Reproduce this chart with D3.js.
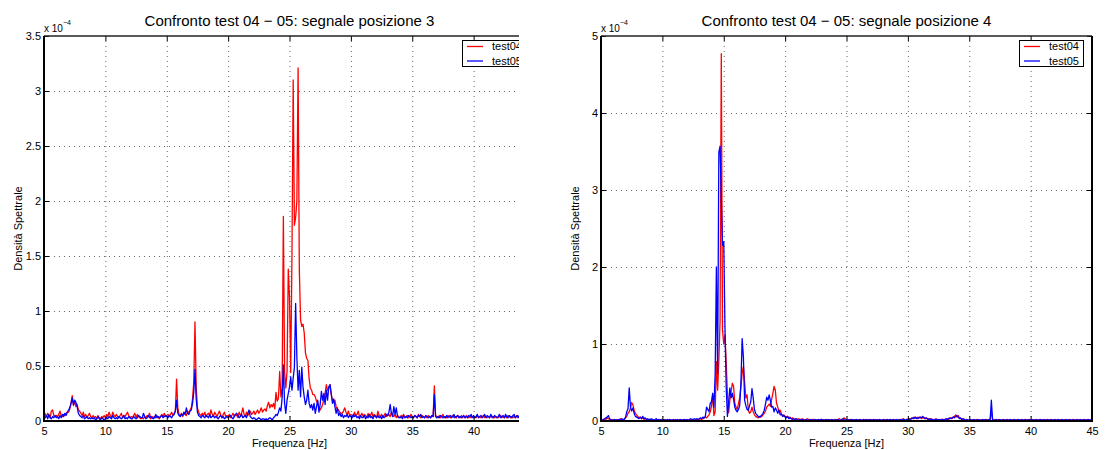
<!DOCTYPE html>
<html>
<head>
<meta charset="utf-8">
<script src="https://cdn.jsdelivr.net/npm/d3@7"></script>
<style>
  body { margin: 0; background: #fff; }
  svg { display: block; }
  text { font-family: "Liberation Sans", Arial, Helvetica, sans-serif; fill: #000; }
</style>
</head>
<body>
<svg id="fig" width="1105" height="450"></svg>
<script>
// Spectral density, units of 1e-6, sampled every 0.1 Hz starting at 5 Hz.
// One row per hertz (x.0 ... x.9).

// Position 3, test04
const pos3Test04 = [
  9, 6, 4, 7, 5, 3, 9, 10, 5, 4,
  5, 4, 6, 9, 5, 4, 6, 5, 7, 8,
  8, 11, 16, 23, 14, 18, 13, 15, 10, 9,
  7, 5, 8, 4, 6, 3, 5, 7, 4, 3,
  5, 3, 4, 2, 5, 3, 2, 4, 3, 5,
  3, 6, 4, 8, 5, 3, 8, 5, 4, 6,
  4, 3, 5, 7, 3, 5, 4, 6, 8, 5,
  3, 4, 3, 5, 7, 3, 6, 4, 3, 2,
  3, 2, 4, 3, 5, 4, 7, 2, 4, 3,
  4, 3, 5, 3, 2, 4, 6, 4, 7, 4,
  5, 6, 4, 6, 8, 5, 7, 9, 38, 12,
  6, 5, 7, 4, 8, 6, 5, 9, 7, 10,
  12, 20, 35, 90, 30, 12, 8, 6, 5, 7,
  5, 8, 4, 6, 7, 5, 10, 6, 4, 8,
  6, 4, 7, 9, 5, 3, 6, 8, 4, 5,
  4, 6, 3, 5, 7, 4, 6, 5, 3, 8,
  5, 7, 12, 6, 4, 8, 5, 7, 9, 6,
  7, 9, 6, 8, 10, 7, 9, 12, 8, 10,
  11, 9, 14, 17, 12, 15, 13, 16, 11, 26,
  18, 21, 45, 22, 30, 186, 45, 30, 45, 138,
  113, 44, 150, 310, 178, 185, 200, 321, 138, 92,
  86, 88, 80, 62, 57, 55, 38, 30, 28, 24,
  24, 22, 18, 16, 13, 10, 12, 15, 20, 25,
  33, 28, 30, 33, 24, 19, 17, 19, 13, 11,
  10, 8, 7, 7, 9, 12, 8, 6, 9, 5,
  6, 5, 4, 8, 5, 6, 9, 4, 5, 7,
  4, 6, 5, 3, 7, 4, 5, 8, 4, 6,
  5, 3, 9, 5, 4, 6, 3, 5, 7, 4,
  5, 6, 4, 8, 5, 4, 6, 3, 5, 4,
  3, 5, 4, 6, 3, 4, 5, 3, 4, 6,
  4, 3, 5, 4, 3, 6, 4, 3, 5, 4,
  3, 4, 3, 5, 4, 3, 5, 4, 32, 5,
  4, 3, 5, 3, 4, 6, 3, 4, 3, 5,
  4, 3, 4, 5, 3, 4, 3, 5, 4, 3,
  5, 3, 4, 3, 5, 4, 3, 4, 3, 4,
  3, 4, 3, 5, 3, 4, 3, 4, 5, 3,
  4, 3, 4, 3, 5, 3, 4, 3, 4, 3,
  3, 4, 5, 3, 4, 3, 4, 3, 5, 4,
  3, 4, 3, 4, 3, 5, 3, 4, 3, 4,
  3
];

// Position 3, test05
const pos3Test05 = [
  4, 3, 5, 2, 6, 3, 2, 4, 3, 5,
  3, 4, 2, 5, 3, 6, 4, 7, 5, 8,
  10, 12, 16, 21, 15, 19, 17, 13, 7, 5,
  4, 3, 5, 2, 3, 4, 2, 3, 2, 3,
  2, 3, 1, 2, 4, 2, 1, 3, 2, 1,
  2, 3, 2, 4, 3, 2, 5, 3, 2, 3,
  2, 4, 3, 2, 3, 5, 2, 3, 2, 4,
  3, 2, 2, 4, 3, 2, 3, 5, 4, 3,
  3, 7, 4, 2, 3, 5, 3, 4, 3, 2,
  3, 6, 3, 4, 3, 4, 5, 3, 4, 5,
  4, 3, 5, 4, 3, 5, 6, 9, 19, 7,
  5, 4, 6, 5, 8, 6, 12, 7, 6, 9,
  10, 16, 26, 47, 20, 8, 5, 4, 3, 5,
  4, 3, 5, 4, 3, 6, 3, 4, 5, 3,
  4, 3, 2, 4, 5, 3, 4, 2, 3, 4,
  3, 4, 5, 3, 2, 4, 6, 7, 5, 3,
  4, 6, 3, 4, 5, 3, 7, 10, 4, 3,
  2, 3, 2, 1, 2, 3, 2, 1, 2, 2,
  1, 2, 1, 2, 3, 2, 1, 3, 4, 6,
  5, 8, 12, 9, 21, 51, 16, 7, 19, 25,
  31, 40, 28, 39, 49, 107, 58, 28, 46, 22,
  49, 31, 22, 15, 19, 28, 16, 12, 15, 10,
  16, 7, 13, 19, 8, 15, 27, 19, 25, 15,
  28, 19, 31, 33, 25, 16, 20, 13, 7, 12,
  5, 7, 4, 6, 3, 5, 4, 6, 3, 5,
  4, 3, 6, 4, 5, 3, 4, 2, 5, 3,
  3, 5, 2, 4, 3, 6, 3, 4, 2, 5,
  4, 3, 5, 3, 4, 2, 5, 3, 4, 6,
  5, 8, 15, 7, 4, 13, 6, 12, 4, 3,
  3, 4, 2, 5, 3, 4, 3, 5, 4, 3,
  4, 3, 5, 4, 3, 5, 4, 6, 3, 4,
  3, 5, 4, 3, 4, 3, 5, 4, 24, 4,
  3, 4, 3, 5, 4, 3, 4, 3, 5, 3,
  4, 5, 3, 4, 6, 3, 4, 5, 3, 4,
  3, 4, 5, 3, 4, 3, 5, 4, 6, 3,
  5, 3, 4, 6, 3, 4, 5, 3, 4, 6,
  3, 5, 4, 3, 6, 4, 3, 5, 4, 3,
  4, 6, 3, 4, 5, 3, 6, 4, 3, 5,
  4, 3, 5, 6, 3, 4, 5, 3, 4, 3,
  4
];

// Position 4, test04
const pos4Test04 = [
  2, 1, 2, 3, 2, 4, 3, 2, 1, 2,
  1, 2, 1, 2, 1, 2, 3, 2, 1, 2,
  4, 6, 10, 12, 17, 24, 21, 14, 10, 8,
  6, 4, 5, 3, 4, 2, 3, 2, 2, 1,
  2, 1, 2, 1, 1, 2, 1, 1, 2, 1,
  1, 1, 2, 1, 1, 1, 2, 1, 1, 1,
  1, 2, 1, 1, 2, 1, 1, 2, 1, 1,
  2, 1, 1, 2, 1, 2, 1, 1, 2, 2,
  2, 3, 2, 3, 4, 5, 4, 6, 8, 12,
  19, 34, 7, 12, 77, 40, 79, 130, 477, 118,
  100, 112, 75, 35, 11, 27, 38, 49, 45, 23,
  18, 15, 23, 30, 45, 62, 71, 50, 30, 34,
  14, 10, 12, 18, 12, 8, 6, 5, 4, 6,
  5, 6, 8, 10, 13, 18, 20, 22, 19, 28,
  36, 45, 40, 23, 18, 12, 14, 9, 7, 8,
  6, 5, 6, 4, 5, 3, 4, 3, 2, 3,
  2, 3, 2, 2, 3, 2, 1, 2, 3, 2,
  2, 1, 2, 2, 1, 2, 1, 2, 1, 2,
  1, 2, 1, 1, 2, 1, 2, 1, 1, 2,
  1, 2, 1, 2, 3, 2, 1, 2, 4, 3,
  2, 1, 2, 1, 2, 1, 1, 2, 1, 2,
  1, 2, 1, 1, 2, 1, 2, 1, 2, 1,
  2, 1, 2, 1, 1, 2, 1, 2, 1, 1,
  1, 2, 1, 2, 1, 2, 1, 1, 2, 1,
  2, 1, 1, 2, 1, 2, 3, 2, 1, 2,
  2, 3, 2, 4, 3, 5, 4, 3, 5, 4,
  5, 3, 4, 5, 3, 4, 2, 3, 2, 3,
  2, 1, 2, 3, 2, 1, 2, 1, 2, 2,
  1, 2, 3, 2, 3, 4, 3, 5, 6, 8,
  5, 7, 4, 3, 2, 3, 2, 1, 2, 1,
  1, 2, 1, 2, 1, 1, 2, 1, 2, 1,
  1, 2, 1, 1, 2, 1, 1, 2, 12, 2,
  1, 2, 1, 1, 2, 1, 1, 2, 1, 1,
  2, 1, 1, 2, 1, 1, 2, 1, 1, 2,
  1, 1, 2, 1, 1, 2, 1, 1, 2, 1,
  1, 2, 1, 1, 2, 1, 1, 2, 1, 1,
  2, 1, 1, 2, 1, 1, 2, 1, 1, 2,
  1, 1, 2, 1, 1, 2, 1, 1, 2, 1,
  1, 2, 1, 1, 2, 1, 1, 2, 1, 1,
  2, 1, 1, 2, 1, 1, 2, 1, 1, 2,
  1
];

// Position 4, test05
const pos4Test05 = [
  2, 1, 2, 3, 4, 5, 7, 3, 2, 1,
  1, 2, 1, 1, 2, 1, 2, 3, 2, 2,
  5, 12, 16, 43, 18, 13, 17, 10, 6, 5,
  4, 3, 5, 3, 6, 3, 4, 2, 3, 2,
  2, 3, 2, 1, 2, 3, 1, 2, 1, 2,
  1, 2, 1, 1, 2, 1, 2, 1, 1, 2,
  1, 1, 2, 1, 1, 2, 1, 1, 2, 1,
  2, 1, 2, 3, 2, 2, 3, 2, 3, 2,
  3, 4, 3, 5, 4, 6, 18, 15, 12, 23,
  25, 36, 18, 60, 200, 62, 349, 357, 290, 228,
  233, 120, 44, 6, 25, 43, 30, 36, 28, 18,
  14, 12, 15, 20, 50, 107, 83, 27, 20, 15,
  14, 20, 25, 42, 30, 15, 10, 8, 6, 5,
  6, 8, 10, 14, 22, 31, 27, 34, 26, 18,
  19, 12, 17, 14, 10, 14, 8, 9, 6, 7,
  5, 4, 6, 3, 4, 3, 2, 3, 2, 3,
  2, 1, 2, 1, 2, 1, 1, 2, 1, 1,
  1, 2, 1, 1, 2, 1, 1, 2, 1, 2,
  2, 1, 1, 2, 1, 2, 1, 1, 2, 1,
  1, 2, 1, 2, 1, 1, 2, 3, 2, 1,
  2, 1, 1, 2, 1, 2, 1, 1, 2, 1,
  1, 2, 1, 1, 2, 1, 2, 1, 1, 2,
  1, 1, 2, 1, 2, 1, 1, 2, 1, 1,
  2, 1, 1, 2, 1, 1, 2, 1, 2, 1,
  1, 2, 1, 1, 2, 1, 2, 2, 1, 2,
  2, 3, 2, 3, 4, 3, 5, 4, 3, 4,
  5, 4, 6, 4, 3, 4, 3, 2, 3, 2,
  2, 1, 2, 2, 1, 2, 1, 2, 2, 1,
  2, 3, 2, 3, 4, 3, 4, 5, 4, 6,
  7, 5, 3, 4, 2, 3, 2, 1, 2, 1,
  1, 2, 1, 1, 2, 1, 1, 2, 1, 1,
  1, 2, 1, 2, 1, 1, 2, 1, 27, 2,
  1, 1, 2, 1, 1, 2, 1, 1, 2, 1,
  1, 2, 1, 1, 2, 1, 1, 2, 1, 1,
  2, 1, 1, 2, 1, 1, 2, 1, 1, 2,
  1, 1, 2, 1, 1, 2, 1, 1, 2, 1,
  1, 2, 1, 1, 2, 1, 1, 2, 1, 1,
  2, 1, 1, 2, 1, 1, 2, 1, 1, 2,
  1, 1, 2, 1, 1, 2, 1, 1, 2, 1,
  1, 2, 1, 1, 2, 1, 1, 2, 1, 1,
  1
];

const freqStart = 5;     // Hz, first spectral line
const freqStep = 0.1;    // Hz between spectral lines
const xTicks = [5, 10, 15, 20, 25, 30, 35, 40, 45];
const yTicksPos3 = [0, 0.5, 1, 1.5, 2, 2.5, 3, 3.5];   // x 1e-4
const yTicksPos4 = [0, 1, 2, 3, 4, 5];                  // x 1e-4
const seriesNames = ["test04", "test05"];
const seriesColors = ["#ff0000", "#0000ff"];
const titles = [
  "Confronto test 04 \u2212 05: segnale posizione 3",
  "Confronto test 04 \u2212 05: segnale posizione 4"
];
const xLabel = "Frequenza [Hz]";
const yLabel = "Densit\u00e0 Spettrale";

const svg = d3.select("#fig");
const defs = svg.append("defs");
svg.append("rect").attr("width", 1105).attr("height", 450).attr("fill", "#fff");

const TOP = 36, BOTTOM = 421;

function drawPanel(id, left, right, yTicks, series, title, cropRight) {
  const root = svg.append("g");
  if (cropRight != null) {
    defs.append("clipPath").attr("id", id + "-crop")
      .append("rect").attr("x", 0).attr("y", 0).attr("width", cropRight).attr("height", 450);
    root.attr("clip-path", `url(#${id}-crop)`);
  }
  const yMax = yTicks[yTicks.length - 1];
  const x = d3.scaleLinear().domain([xTicks[0], xTicks[xTicks.length - 1]]).range([left, right]);
  const y = d3.scaleLinear().domain([0, yMax]).range([BOTTOM, TOP]);

  // dotted grid
  const grid = root.append("g").attr("stroke", "#666").attr("stroke-width", 1)
    .attr("stroke-dasharray", "1,4");
  xTicks.slice(1, -1).forEach(t => {
    grid.append("line").attr("x1", x(t) + 0.5).attr("x2", x(t) + 0.5)
      .attr("y1", TOP).attr("y2", BOTTOM);
  });
  yTicks.slice(1, -1).forEach(t => {
    grid.append("line").attr("x1", left).attr("x2", right)
      .attr("y1", Math.round(y(t)) + 0.5).attr("y2", Math.round(y(t)) + 0.5);
  });

  // spectra
  defs.append("clipPath").attr("id", id + "-plot")
    .append("rect").attr("x", left).attr("y", TOP).attr("width", right - left).attr("height", BOTTOM - TOP);
  const line = d3.line()
    .x((d, i) => x(freqStart + i * freqStep))
    .y(d => y(d / 100));
  const lines = root.append("g").attr("clip-path", `url(#${id}-plot)`);
  series.forEach((vals, k) => {
    lines.append("path").datum(vals)
      .attr("d", line)
      .attr("fill", "none")
      .attr("stroke", seriesColors[k])
      .attr("stroke-width", 1.3)
      .attr("stroke-linejoin", "round");
  });

  // axes with inward ticks
  const fmt = d3.format("~g");
  const bottomAxis = root.append("g").attr("transform", `translate(0,${BOTTOM})`)
    .call(d3.axisBottom(x).tickValues(xTicks).tickSize(-5).tickPadding(6).tickFormat(fmt));
  const topAxis = root.append("g").attr("transform", `translate(0,${TOP})`)
    .call(d3.axisTop(x).tickValues(xTicks).tickSize(-5).tickFormat(""));
  const leftAxis = root.append("g").attr("transform", `translate(${left},0)`)
    .call(d3.axisLeft(y).tickValues(yTicks).tickSize(-5).tickPadding(3).tickFormat(fmt));
  const rightAxis = root.append("g").attr("transform", `translate(${right},0)`)
    .call(d3.axisRight(y).tickValues(yTicks).tickSize(-5).tickFormat(""));
  [bottomAxis, topAxis, leftAxis, rightAxis].forEach(a => {
    a.select(".domain").remove();
    a.selectAll(".tick line").attr("stroke", "#000").attr("stroke-width", 1);
    a.selectAll(".tick text").attr("font-size", 11).attr("font-family", null);
  });

  // frame
  root.append("line").attr("x1", left).attr("x2", right).attr("y1", TOP).attr("y2", TOP)
    .attr("stroke", "#222").attr("stroke-width", 1.5);
  root.append("line").attr("x1", left - 1).attr("x2", right + 1).attr("y1", BOTTOM).attr("y2", BOTTOM)
    .attr("stroke", "#000").attr("stroke-width", 2);
  root.append("line").attr("x1", left).attr("x2", left).attr("y1", TOP).attr("y2", BOTTOM)
    .attr("stroke", "#000").attr("stroke-width", 2);
  root.append("line").attr("x1", right).attr("x2", right).attr("y1", TOP).attr("y2", BOTTOM)
    .attr("stroke", "#000").attr("stroke-width", 2);

  // exponent marker
  const expo = root.append("text").attr("x", left).attr("y", 32).attr("font-size", 10);
  expo.append("tspan").text("x 10");
  expo.append("tspan").attr("font-size", 7).attr("dy", -7).text("\u22124");

  // title and axis labels
  root.append("text").attr("x", (left + right) / 2).attr("y", 26)
    .attr("text-anchor", "middle").attr("font-size", 15).text(title);
  root.append("text").attr("x", (left + right) / 2).attr("y", 447)
    .attr("text-anchor", "middle").attr("font-size", 11).text(xLabel);
  root.append("text")
    .attr("transform", `translate(${left - 22},${(TOP + BOTTOM) / 2}) rotate(-90)`)
    .attr("text-anchor", "middle").attr("font-size", 11).text(yLabel);

  // legend
  const lg = root.append("g").attr("transform", `translate(${right - 73},${TOP + 4})`);
  lg.append("rect").attr("x", 0.5).attr("y", 0.5).attr("width", 64).attr("height", 26)
    .attr("fill", "#fff").attr("stroke", "#000").attr("stroke-width", 1);
  seriesNames.forEach((name, k) => {
    const yy = 6.5 + k * 14.5;
    lg.append("line").attr("x1", 5).attr("x2", 21).attr("y1", yy).attr("y2", yy)
      .attr("stroke", seriesColors[k]).attr("stroke-width", 1.3);
    lg.append("text").attr("x", 30).attr("y", yy).attr("dy", "0.35em")
      .attr("font-size", 11).text(name);
  });
}

drawPanel("p3", 44, 535, yTicksPos3, [pos3Test04, pos3Test05], titles[0], 519);
drawPanel("p4", 601, 1092, yTicksPos4, [pos4Test04, pos4Test05], titles[1], null);
</script>
</body>
</html>
